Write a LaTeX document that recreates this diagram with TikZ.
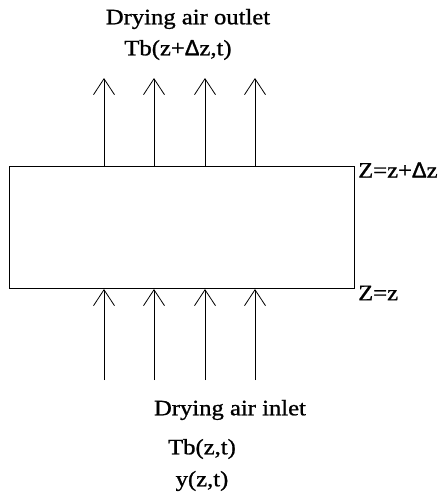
\documentclass[tikz,border=0pt]{standalone}
\usepackage{fontspec}
\setmainfont{Liberation Serif}[FakeStretch=1.12, FakeBold=1]
\newfontfamily\deltafont{Liberation Sans}[FakeBold=1.5]
\usetikzlibrary{arrows.meta}
\newcommand{\mydelta}{{\deltafont Δ}}
\tikzset{
  lbl/.style={font=\fontsize{22}{25}\selectfont, inner sep=0pt},
  flow/.style={line width=0.8pt, -{Straight Barb[length=16pt,width=21pt,line width=0.8pt]}},
  boxstyle/.style={draw, line width=1pt, minimum width=345pt, minimum height=122pt, inner sep=0pt, anchor=north west}
}
\begin{document}
\begin{tikzpicture}[x=1pt,y=-1pt]
\useasboundingbox (0,0) rectangle (440,495);
\node[boxstyle] (box) at (9,166) {};
\foreach \i/\x in {1/104,2/154,3/205,4/255}{
  \coordinate (t\i) at (\x,78);
  \coordinate (bt\i) at (\x,166);
  \draw[flow] (bt\i) -- (t\i);
  \coordinate (b\i) at (\x,380);
  \coordinate (bb\i) at (\x,289);
  \draw[flow] (b\i) -- (bb\i);
}
\node[lbl] (outlet) at (188,19) {Drying air outlet};
\node[lbl] (tbout) at (178,50) {Tb(z+\mydelta z,t)};
\node[lbl, anchor=west] (ztop) at (358,170) {Z=z+\mydelta z};
\node[lbl, anchor=west] (zbot) at (358,293) {Z=z};
\node[lbl] (inlet) at (230,410) {Drying air inlet};
\node[lbl] (tbin) at (202,449) {Tb(z,t)};
\node[lbl] (yin) at (202,481) {y(z,t)};
\end{tikzpicture}
\end{document}
